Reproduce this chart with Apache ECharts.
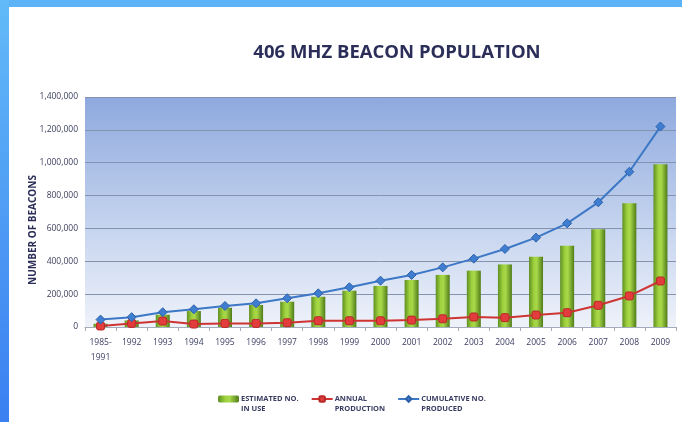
<!DOCTYPE html>
<html>
<head>
<meta charset="utf-8">
<script src="https://cdn.jsdelivr.net/npm/echarts@6/dist/echarts.min.js"></script>
<style>
  html, body { margin: 0; padding: 0; background: #ffffff; }
  #chart { width: 682px; height: 422px; }
</style>
</head>
<body>
<div id="chart"></div>
<script>
// Category labels along the x axis
const years = ['1985-\n1991', '1992', '1993', '1994', '1995', '1996', '1997', '1998', '1999', '2000',
  '2001', '2002', '2003', '2004', '2005', '2006', '2007', '2008', '2009'];

// Beacons estimated to be in use each year
const inUse = [20000, 40000, 75000, 97000, 117000, 134000, 154000, 184000, 221000, 250000,
  286000, 317000, 343000, 381000, 428000, 495000, 595000, 753000, 990000];

// Beacons produced during each year
const annual = [6000, 22000, 36000, 18000, 22000, 22000, 26000, 38000, 38000, 38000,
  42000, 50000, 61000, 57000, 73000, 87000, 132000, 189000, 280000];

// Running total of beacons produced
const cumulative = [45000, 60000, 90000, 108000, 128000, 144000, 175000, 205000, 242000, 282000,
  317000, 363000, 416000, 475000, 544000, 631000, 759000, 945000, 1220000];

// Y axis range and step
const yMax = 1400000;
const yStep = 200000;

// Legend captions (two lines; the first line sits level with the key)
const legendText = {
  inUse: ['ESTIMATED NO.', 'IN USE'],
  annual: ['ANNUAL', 'PRODUCTION'],
  cumulative: ['CUMULATIVE NO.', 'PRODUCED']
};

const textColor = '#3a3d62';
const chart = echarts.init(document.getElementById('chart'), null, { renderer: 'canvas' });

chart.setOption({
  animation: false,
  backgroundColor: '#ffffff',
  title: {
    text: '406 MHZ BEACON POPULATION',
    left: 392,
    textAlign: 'center',
    top: 38,
    textStyle: {
      fontFamily: 'Open Sans',
      fontWeight: 'bold',
      fontSize: 18.5,
      color: '#2b2e58'
    }
  },
  graphic: [
    // page frame: blue band on top and on the left
    {
      type: 'rect', left: 0, top: 0, z: 100,
      shape: { width: 682, height: 7 },
      style: { fill: '#5cb3f7' }
    },
    {
      type: 'rect', left: 0, top: 0, z: 100,
      shape: { width: 9, height: 422 },
      style: {
        fill: new echarts.graphic.LinearGradient(0, 0, 0, 1, [
          { offset: 0, color: '#62baf8' },
          { offset: 1, color: '#3b7ff1' }
        ])
      }
    },
    // y axis title
    {
      type: 'text',
      x: 33, y: 230,
      rotation: Math.PI / 2,
      style: {
        text: 'NUMBER OF BEACONS',
        fontFamily: 'Open Sans',
        fontWeight: 'bold',
        fontSize: 10,
        fill: '#2b2e58',
        align: 'center',
        verticalAlign: 'middle'
      }
    }
  ],
  legend: {
    left: 218,
    top: 384,
    padding: 0,
    itemGap: 12,
    itemWidth: 21,
    itemHeight: 7,
    formatter: function (name) {
      const t = legendText[name];
      return '{blank|}\n' + t[0] + '\n' + t[1];
    },
    textStyle: {
      fontFamily: 'Open Sans',
      fontSize: 7.5,
      fontWeight: 'bold',
      color: textColor,
      lineHeight: 10,
      padding: [0, 0, 0, -3],
      rich: {
        blank: { height: 10, lineHeight: 10 }
      }
    },
    data: ['inUse', 'annual', 'cumulative']
  },
  grid: {
    left: 85,
    right: 6,
    top: 97,
    bottom: 95,
    show: true,
    borderWidth: 0,
    backgroundColor: new echarts.graphic.LinearGradient(0, 0, 0, 1, [
      { offset: 0, color: '#8ea9de' },
      { offset: 0.55, color: '#c4d3ee' },
      { offset: 1, color: '#eef2fa' }
    ])
  },
  xAxis: {
    type: 'category',
    data: years,
    axisLine: { lineStyle: { color: '#a4abba', width: 1 } },
    axisTick: { show: true, alignWithLabel: false, length: 4, lineStyle: { color: '#a4abba' } },
    axisLabel: {
      fontFamily: 'Open Sans',
      fontSize: 8.5,
      color: textColor,
      margin: 8,
      interval: 0,
      align: 'center',
      lineHeight: 15
    }
  },
  yAxis: {
    type: 'value',
    min: 0,
    max: yMax,
    interval: yStep,
    axisLine: { show: false },
    axisTick: { show: false },
    splitLine: { lineStyle: { color: '#8593b0', width: 1 } },
    axisLabel: {
      fontFamily: 'Open Sans',
      fontSize: 8.5,
      color: '#3a3d5c',
      margin: 7,
      formatter: function (v) { return v.toLocaleString('en-US'); }
    }
  },
  series: [
    {
      name: 'inUse',
      type: 'bar',
      data: inUse,
      barWidth: 14,
      itemStyle: {
        color: new echarts.graphic.LinearGradient(0, 0, 1, 0, [
          { offset: 0, color: '#5f8f22' },
          { offset: 0.35, color: '#9fd23e' },
          { offset: 0.55, color: '#a8d84a' },
          { offset: 1, color: '#4f7c18' }
        ])
      },
      z: 2
    },
    {
      name: 'annual',
      type: 'line',
      data: annual,
      symbol: 'roundRect',
      symbolSize: 8,
      lineStyle: { color: '#cf3434', width: 2 },
      itemStyle: { color: '#e23c3c', borderColor: '#b82828', borderWidth: 1 },
      z: 3
    },
    {
      name: 'cumulative',
      type: 'line',
      data: cumulative,
      symbol: 'diamond',
      symbolSize: 9,
      lineStyle: { color: '#3c78c6', width: 2 },
      itemStyle: { color: '#3f7dd0', borderColor: '#2e62a8', borderWidth: 1 },
      z: 4
    }
  ]
});
</script>
</body>
</html>
